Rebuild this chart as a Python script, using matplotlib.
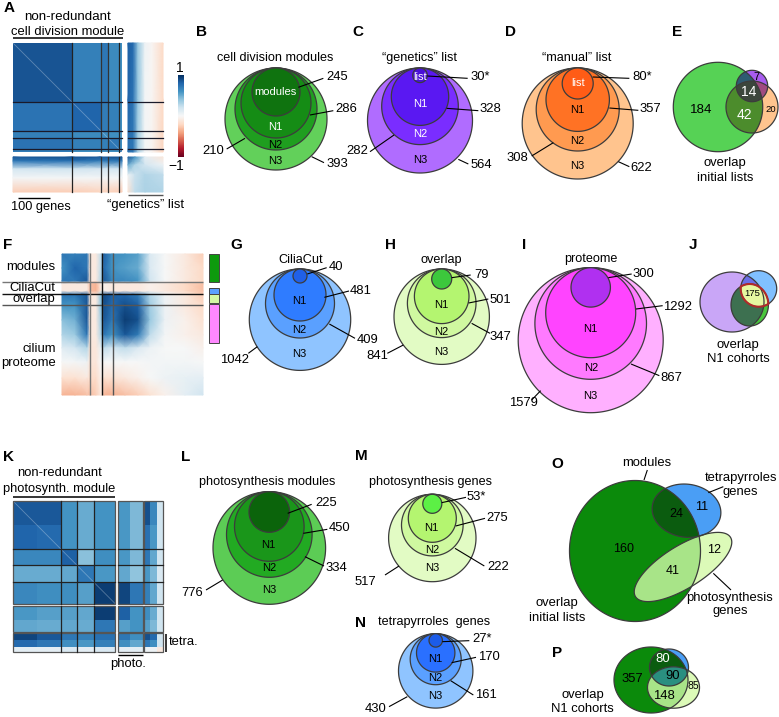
import numpy as np
import matplotlib
matplotlib.use("Agg")
import matplotlib.pyplot as plt
from matplotlib.cm import ScalarMappable
from matplotlib.colors import Normalize
from matplotlib.patches import Polygon, Rectangle

plt.rcParams['font.family'] = ['Liberation Sans', 'DejaVu Sans']

# ------------------------- data -------------------------
B_counts = ["245", "286", "210", "393"]
C_counts = ["30*", "328", "282", "564"]
D_counts = ["80*", "357", "308", "622"]
E_counts = ["184", "14", "7", "42", "20"]
G_counts = ["40", "481", "409", "1042"]
H_counts = ["79", "501", "347", "841"]
I_counts = ["300", "1292", "867", "1579"]
J_counts = ["175"]
L_counts = ["225", "450", "334", "776"]
M_counts = ["53*", "275", "222", "517"]
N_counts = ["27*", "170", "161", "430"]
O_counts = ["24", "11", "160", "12", "41"]
P_counts = ["80", "90", "357", "148", "85"]

# heat-map values, estimated block by block
A_main = [[.86, .68, .72, .64, .62],
          [.74, .8, .7, .68, .62],
          [.68, .64, .64, .62, .57],
          [.74, .68, .68, .72, .62],
          [.7, .62, .62, .62, .72]]
A_right = [[.82, .78, .38, .05, -.02, -.2],
           [.8, .74, .38, .03, -.02, -.2],
           [.74, .72, .32, .02, -.03, -.22]]
A_bottom = [[.85, .88, .85, .88],
            [.72, .75, .7, .72],
            [.18, .2, .18, .18],
            [.02, .02, .02, .02],
            [-.25, -.25, -.22, -.25]]
A_corner = [[.85, .6, .1, -.12],
            [.5, .3, .18, .05],
            [.05, .22, .3, .25],
            [-.15, .25, .32, .3]]
F_matrix = [
    [.72, .68, .72, -.1, -.1, .25, .82, .62, .6, .55, .15, 0, -.1, -.25],
    [.6, .8, .72, -.1, -.1, .25, .78, .6, .55, .5, .15, 0, -.1, -.2],
    [.72, .72, .85, -.1, -.1, .3, .85, .65, .65, .6, .2, 0, -.1, -.2],
    [-.1, -.1, -.1, -.3, -.35, -.1, -.05, -.1, -.1, -.1, -.05, -.1, -.2, -.3],
    [-.1, -.1, -.1, -.3, -.35, -.1, -.05, -.1, -.1, -.1, -.05, -.1, -.2, -.3],
    [.72, .72, .85, -.1, -.1, .4, .9, .82, .8, .7, .3, .05, -.1, -.25],
    [.6, .6, .85, -.1, -.1, .4, .88, .78, .88, .82, .35, .05, -.1, -.2],
    [.42, .48, .85, -.1, -.1, .35, .85, .72, .95, .88, .38, .05, -.05, -.15],
    [.3, .36, .72, -.1, -.1, .3, .72, .6, .85, .7, .25, .02, -.05, -.1],
    [.12, .18, .3, -.12, -.12, .08, .25, .18, .25, .15, .06, 0, 0, -.05],
    [0, .02, .05, -.12, -.12, 0, 0, 0, 0, 0, .02, .03, .03, 0],
    [-.15, -.15, -.1, -.18, -.18, -.05, -.15, -.15, -.1, -.05, 0, .05, .08, .1],
    [-.35, -.35, -.3, -.3, -.25, -.1, -.35, -.35, -.3, -.25, -.15, -.05, .1, .2]]
nan = np.nan
K_matrix = [
    [.85, .85, .6, .5, .6, nan, .58, .45, nan, .88, .65, .2],
    [.8, .78, .6, .5, .6, nan, .58, .45, nan, .75, .58, .2],
    [.65, .65, .82, .42, .62, nan, .58, .45, nan, .72, .52, .2],
    [.5, .5, .52, .72, .58, nan, .52, .4, nan, .58, .45, .15],
    [.65, .62, .62, .55, .95, nan, .92, .72, nan, .68, .52, .2],
    [nan] * 12,
    [.58, .55, .55, .52, .95, nan, .82, .6, nan, .62, .5, .2],
    [.52, .5, .52, .5, .72, nan, .55, .6, nan, .55, .45, .2],
    [nan] * 12,
    [.92, .85, .72, .68, .75, nan, .72, .62, nan, .88, .78, .2],
    [.78, .72, .62, .58, .68, nan, .62, .52, nan, .72, .62, .2],
    [.1, .1, .15, .1, .15, nan, .1, .1, nan, .05, .05, -.1]]

# ------------------------- layout -------------------------
fig = plt.figure(figsize=(7.79, 7.17), dpi=100)
ax = fig.add_axes([0, 0, 1, 1])
ax.set_xlim(0, 779)
ax.set_ylim(717, 0)
ax.axis('off')

EDGE = '#3c3c3c'
cmap = plt.get_cmap('RdBu')
norm = Normalize(-1, 1)


def T(ox, oy, zx, zy, s, size=9.4, color='black', ha='center', weight='normal'):
    ax.text(ox + zx / 3, oy + zy / 3, s, fontsize=size, color=color, ha=ha,
            va='center', fontweight=weight, zorder=20)


def L(ox, oy, x0, y0, x1, y1, color='black', lw=0.8):
    ax.plot([ox + x0 / 3, ox + x1 / 3], [oy + y0 / 3, oy + y1 / 3], color=color,
            lw=lw, zorder=15, solid_capstyle='butt')


def letter(ox, oy, zx, zy, s):
    T(ox, oy, zx, zy, s, size=11, weight='bold')


def nested(cx, top, radii, colors):
    for i, (r, c) in enumerate(zip(radii, colors)):
        t = np.linspace(0, 2 * np.pi, 200)
        ax.fill(cx + r * np.cos(t), top + r + r * np.sin(t), facecolor=c, edgecolor=EDGE,
                lw=0.9, zorder=3 + i)


def poly(cx, cy, rx, ry, deg=0):
    t = np.linspace(0, 2 * np.pi, 240, endpoint=False)
    a = np.radians(deg)
    x, y = rx * np.cos(t), ry * np.sin(t)
    return np.c_[cx + x * np.cos(a) - y * np.sin(a), cy + x * np.sin(a) + y * np.cos(a)]


def clip(subject, clipper):
    out = list(map(tuple, subject))
    n = len(clipper)
    for i in range(n):
        a, b = clipper[i], clipper[(i + 1) % n]
        side = lambda p: (b[0] - a[0]) * (p[1] - a[1]) - (b[1] - a[1]) * (p[0] - a[0])
        inp, out = out, []
        for j in range(len(inp)):
            p, q = inp[j], inp[(j + 1) % len(inp)]
            sp, sq = side(p), side(q)
            if sp >= 0:
                out.append(p)
            if sp * sq < 0:
                s = sp / (sp - sq)
                out.append((p[0] + s * (q[0] - p[0]), p[1] + s * (q[1] - p[1])))
        if not out:
            return None
    return np.array(out)


def region(shapes, color, z=5):
    p = shapes[0]
    for s in shapes[1:]:
        p = clip(p, s)
        if p is None:
            return
    ax.add_patch(Polygon(p, closed=True, facecolor=color, edgecolor='none', zorder=z))


def outline(p, lw=0.9, color=EDGE, z=8):
    ax.add_patch(Polygon(p, closed=True, fill=False, edgecolor=color, lw=lw, zorder=z))


def flat(xe, ye, Z):
    ax.pcolormesh(xe, ye, np.ma.masked_invalid(np.array(Z, float)), cmap=cmap, norm=norm,
                  shading='flat', antialiased=False, zorder=1)


def smooth(xn, yn, Z):
    ax.pcolormesh(xn, yn, np.array(Z, float), cmap=cmap, norm=norm, shading='gouraud', zorder=1)


# ------------------------- A -------------------------
letter(0, 0, 28, 25, "A")
T(0, 0, 204, 50, "non-redundant", size=9.6)
T(0, 0, 203, 96, "cell division module", size=9.35)
L(0, 0, 40, 115, 370, 115, lw=1.1)
flat([13, 72, 101.5, 108, 119, 122], [43, 102, 131, 138, 149, 152], A_main)
smooth([128, 133, 138, 145, 152, 163], [43, 100, 152], A_right)
smooth([13, 72, 100, 122], [157, 161, 169, 178, 192], A_bottom)
smooth([128, 135, 145, 163], [157, 165, 175, 192], A_corner)
ax.plot([13, 122], [43, 152], color='white', lw=0.6, alpha=.3, zorder=2)
for x, c in zip([72, 101.5, 108, 119], ['#222', '#333', '#333', '#222']):
    ax.plot([x, x], [43, 152], color=c, lw=0.9, zorder=4)
    ax.plot([x, x], [157, 192], color=c, lw=0.9, zorder=4)
for y in [102, 131, 138, 149]:
    ax.plot([13, 122], [y, y], color='#1a1a2a', lw=0.9, zorder=4)
    ax.plot([128, 163], [y, y], color='#1a1a2a', lw=0.9, zorder=4)
T(0, 0, 122, 620, "100 genes", size=9.2)
L(0, 0, 55, 594, 150, 594, lw=1.0)
T(0, 0, 438, 615, "\u201cgenetics\u201d list", size=9.4)
L(0, 0, 383, 585, 490, 585, color='#555', lw=1.0)
cax = fig.add_axes([178 / 779, 1 - 157 / 717, 5.5 / 779, 82 / 717])
cb = fig.colorbar(ScalarMappable(norm=norm, cmap=cmap), cax=cax)
cb.set_ticks([])
cb.outline.set_visible(False)
T(0, 0, 540, 203, "1", size=10)
T(0, 0, 528, 497, "\u22121", size=10)

# ------------------------- B C D E -------------------------
letter(200, 0, 5, 97, "B")
T(200, 0, 225, 175, "cell division modules", size=9.1)
nested(276, 68, [51, 41, 35, 24], ['#62d05a', '#1f9e1f', '#158c15', '#0f730f'])
for (zx, zy, s, c) in [(226, 277, "modules", 'white'), (225, 380, "N1", 'white'),
                       (225, 435, "N2", 'black'), (227, 482, "N3", 'black')]:
    T(200, 0, zx, zy, s, size=8, color=c)
for (zx, zy), s, seg in zip([(411, 231), (438, 328), (40, 453), (411, 492)], B_counts,
                            [(295, 262, 370, 235), (330, 345, 400, 332), (80, 447, 135, 415),
                             (335, 470, 372, 488)]):
    T(200, 0, zx, zy, s)
    L(200, 0, *seg)

letter(200, 0, 473, 97, "C")
T(200, 0, 660, 175, "\u201cgenetics\u201d list", size=9.1)
nested(420, 68, [52.5, 38.3, 28.7, 7.3], ['#b06cff', '#7a2dff', '#5a18f2', '#4a10d8'])
for (zx, zy, s, c) in [(660, 230, "list", 'white'), (660, 312, "N1", 'white'),
                       (660, 403, "N2", 'white'), (660, 480, "N3", 'black')]:
    T(200, 0, zx, zy, s, size=8, color=c)
for (zx, zy), s, seg in zip([(840, 231), (870, 328), (473, 453), (845, 494)], C_counts,
                            [(682, 228, 803, 235), (740, 325, 835, 332), (510, 455, 582, 405),
                             (775, 478, 805, 492)]):
    T(200, 0, zx, zy, s)
    L(200, 0, *seg)

letter(500, 0, 33, 97, "D")
T(500, 0, 230, 175, "\u201cmanual\u201d list", size=9.1)
nested(577.7, 68, [55.5, 41.5, 31.7, 15.5], ['#ffc48e', '#ff9a50', '#ff7224', '#ff5c16'])
for (zx, zy, s, c) in [(233, 248, "list", 'white'), (232, 330, "N1", 'black'),
                       (233, 423, "N2", 'black'), (233, 497, "N3", 'black')]:
    T(500, 0, zx, zy, s, size=8, color=c)
for (zx, zy), s, seg in zip([(428, 231), (452, 328), (52, 475), (425, 503)], D_counts,
                            [(278, 231, 388, 235), (328, 324, 415, 331), (95, 468, 160, 428),
                             (355, 485, 388, 500)]):
    T(500, 0, zx, zy, s)
    L(500, 0, *seg)

letter(500, 0, 530, 97, "E")
eg, eo, ep = poly(718, 107, 44.7, 44.7), poly(752, 107, 26, 26), poly(752, 86, 15.7, 15.7)
region([eg], '#56d255', 3)
region([eo], '#ffc48e', 3)
region([ep], '#a85cf0', 3)
region([eg, eo], '#4c8c2c', 4)
region([eg, ep], '#2e5c72', 4)
region([eo, ep], '#a04a80', 4)
region([eg, eo, ep], '#3c463c', 5)
for p in (eg, eo, ep):
    outline(p)
T(500, 0, 603, 331, E_counts[0], size=9.6)
T(500, 0, 745, 277, E_counts[1], size=10, color='white')
T(500, 0, 770, 230, E_counts[2], size=8)
T(500, 0, 732, 346, E_counts[3], size=10, color='white')
T(500, 0, 812, 330, E_counts[4], size=6.8)
T(500, 0, 675, 490, "overlap", size=9.4)
T(500, 0, 675, 533, "initial lists", size=9.4)

# ------------------------- F -------------------------
letter(0, 225, 22, 60, "F")
smooth([62, 75, 87, 90, 96, 101, 104, 112, 125, 138, 150, 165, 185, 203],
       [254, 268, 281, 284, 291, 295, 305, 320, 335, 348, 362, 378, 395], F_matrix)
for y, c in zip([170, 208, 240], ['#777', '#111', '#555']):
    L(0, 225, 6, y, 610, y, color=c, lw=1.0)
for x, c in zip([269, 307, 338], ['#777', '#111', '#555']):
    L(0, 225, x, 85, x, 510, color=c, lw=1.0)
for y, s in zip([125, 190, 222, 371, 415], ["modules", "CiliaCut", "overlap", "cilium", "proteome"]):
    T(0, 225, 167, y, s, ha='right', size=9.4)
for y0, y1, c in [(87, 170, '#0d9a0d'), (190, 207, '#5aa0ff'), (208, 234, '#d4f8a4'), (237, 353, '#ff88ff')]:
    ax.add_patch(Rectangle((209, 225 + y0 / 3), 10, (y1 - y0) / 3, facecolor=c, edgecolor='#444', lw=0.7))

# ------------------------- G H I J -------------------------
letter(230, 225, 20, 60, "G")
T(230, 225, 212, 104, "CiliaCut", size=9.1)
nested(300, 269, [50.7, 34.5, 26, 7], ['#8fc4ff', '#5aa0ff', '#2f7cff', '#2060e8'])
for zy, s in zip([229, 316, 387], ["N1", "N2", "N3"]):
    T(230, 225, 208, zy, s, size=8)
for (zx, zy), s, seg, ha in zip([(318, 125), (392, 197), (412, 346), (58, 405)], G_counts,
                                [(232, 147, 290, 128), (283, 217, 357, 198), (298, 297, 375, 340),
                                 (55, 385, 82, 365)], ['center', 'center', 'center', 'right']):
    T(230, 225, zx, zy, s, ha=ha)
    L(230, 225, *seg)

letter(230, 225, 482, 60, "H")
T(230, 225, 635, 104, "overlap", size=9.1)
nested(441.7, 269, [47.7, 34.3, 27.3, 10], ['#e2fbc4', '#d0f8a0', '#b4f570', '#3cc83c'])
for zy, s in zip([240, 321, 382], ["N1", "N2", "N3"]):
    T(230, 225, 634, zy, s, size=8)
for (zx, zy), s, seg in zip([(755, 149), (810, 224), (810, 337), (442, 392)], H_counts,
                            [(665, 158, 722, 150), (716, 234, 775, 222), (725, 295, 780, 325),
                             (472, 385, 520, 360)]):
    T(230, 225, zx, zy, s)
    L(230, 225, *seg)

letter(500, 225, 73, 60, "I")
T(500, 225, 272, 103, "proteome", size=9.1)
nested(590.7, 267.7, [72.5, 55.8, 45, 19.7], ['#ffb0ff', '#ff7aff', '#ff44ff', '#b030f0'])
for (zx, zy), s in zip([(270, 313), (273, 430), (272, 513)], ["N1", "N2", "N3"]):
    T(500, 225, zx, zy, s, size=8)
for (zx, zy), s, seg in zip([(430, 146), (532, 245), (515, 458), (70, 533)], I_counts,
                            [(325, 158, 395, 147), (408, 252, 488, 242), (393, 417, 478, 452),
                             (95, 525, 122, 497)]):
    T(500, 225, zx, zy, s)
    L(500, 225, *seg)

letter(500, 225, 580, 60, "J")
jp, jb, jg = poly(732, 302, 32, 30), poly(758.7, 288.7, 18, 18), poly(749.7, 305, 18.7, 21)
region([jp], '#c9a6f7', 3)
region([jb], '#80c0ff', 3)
region([jg], '#49c63c', 3)
region([jp, jb], '#6a6fe6', 4)
region([jp, jg], '#3d7050', 4)
region([jb, jg], '#e6f7a0', 5)
for p in (jp, jb, jg):
    outline(p)
lens = clip(jb, jg)
ax.add_patch(Polygon(lens, closed=True, fill=False, edgecolor='#b02a2a', lw=1.5, zorder=9))
T(500, 225, 757, 207, J_counts[0], size=6.8)
T(500, 225, 715, 360, "overlap", size=9.4)
T(500, 225, 715, 403, "N1 cohorts", size=9.4)

# ------------------------- K -------------------------
letter(0, 440, 25, 50, "K")
T(0, 440, 178, 100, "non-redundant", size=9.4)
T(0, 440, 178, 146, "photosynth. module", size=9.3)
L(0, 440, 40, 170, 345, 170, lw=1.1)
flat([13, 37, 61, 77.5, 94, 115.5, 118, 130, 143, 144.5, 150, 157, 163],
     [501, 525, 549, 565, 582, 604, 606, 620, 632, 633, 640, 647, 652], K_matrix)
ax.plot([13, 115.5], [501, 604], color='white', lw=0.6, alpha=.3, zorder=2)
for x0, x1 in [(13, 115.5), (118, 143), (144.5, 163)]:
    for y0, y1 in [(501, 604), (606, 632), (633, 652)]:
        ax.add_patch(Rectangle((x0, y0), x1 - x0, y1 - y0, fill=False, edgecolor='#555', lw=0.9, zorder=4))
for x in (61, 77.5, 94):
    for y0, y1 in [(501, 604), (606, 632), (633, 652)]:
        ax.plot([x, x], [y0, y1], color='#222', lw=0.9, zorder=4)
for y in (549, 565, 582):
    for x0, x1 in [(13, 115.5), (118, 143), (144.5, 163)]:
        ax.plot([x0, x1], [y, y], color='#222', lw=0.9, zorder=4)
L(0, 440, 498, 583, 498, 635, lw=1.1)
T(0, 440, 550, 607, "tetra.", size=9.4)
L(0, 440, 355, 646, 430, 646, lw=1.0)
T(0, 440, 385, 672, "photo.", size=9.4)

# ------------------------- L M N -------------------------
letter(0, 440, 557, 50, "L")
T(200, 440, 203, 127, "photosynthesis modules", size=9.1)
nested(269.3, 491.7, [56.3, 42.8, 34.8, 20.3], ['#5ccc55', '#22aa22', '#1a961a', '#0b640b'])
for (zx, zy), s in zip([(206, 316), (207, 385), (207, 449)], ["N1", "N2", "N3"]):
    T(200, 440, zx, zy, s, size=8)
for (zx, zy), s, seg, ha in zip([(378, 190), (418, 265), (410, 385), (10, 458)], L_counts,
                                [(263, 220, 335, 193), (310, 280, 382, 268), (315, 350, 372, 378),
                                 (18, 450, 68, 420)], ['center', 'center', 'center', 'right']):
    T(200, 440, zx, zy, s, ha=ha)
    L(200, 440, *seg)

letter(200, 440, 484, 48, "M")
T(200, 440, 692, 127, "photosynthesis genes", size=9.1)
nested(432.3, 494.3, [43.7, 30.8, 24, 9.5], ['#e2fbc4', '#cff9a0', '#b4f570', '#5cf045'])
for (zx, zy), s in zip([(695, 265), (697, 330), (697, 385)], ["N1", "N2", "N3"]):
    T(200, 440, zx, zy, s, size=8)
for (zx, zy), s, seg in zip([(828, 170), (892, 234), (895, 382), (497, 425)], M_counts,
                            [(725, 188, 798, 172), (767, 258, 855, 235), (765, 325, 853, 378),
                             (555, 405, 597, 378)]):
    T(200, 440, zx, zy, s)
    L(200, 440, *seg)

letter(200, 440, 482, 548, "N")
T(200, 440, 703, 545, "tetrapyrroles  genes", size=9.1)
nested(435.7, 633.7, [37.2, 25.5, 19.2, 6.7], ['#8fc4ff', '#5aa0ff', '#2a70ff', '#1c5ce8'])
for (zx, zy), s in zip([(705, 656), (707, 713), (707, 767)], ["N1", "N2", "N3"]):
    T(200, 440, zx, zy, s, size=8)
for (zx, zy), s, seg in zip([(845, 598), (866, 652), (857, 764), (528, 807)], N_counts,
                            [(727, 605, 808, 602), (755, 668, 828, 652), (752, 722, 820, 765),
                             (567, 800, 622, 770)]):
    T(200, 440, zx, zy, s)
    L(200, 440, *seg)

# ------------------------- O P -------------------------
letter(510, 440, 143, 72, "O")
om, ob, op = poly(635, 551, 65.5, 70.5, 0), poly(686.5, 510.7, 34.5, 26.5, 8), poly(683, 567, 56, 21, -32)
region([ob], '#4a9ef5', 3)
region([op], '#dcfab8', 3)
region([om], '#0b8a0b', 4)
region([om, ob], '#0b5c0f', 5)
region([om, op], '#a8e488', 5)
for p in (om, ob, op):
    outline(p)
T(510, 440, 410, 68, "modules")
L(510, 440, 402, 120, 412, 90)
T(510, 440, 692, 115, "tetrapyrroles")
T(510, 440, 692, 157, "genes")
L(510, 440, 595, 158, 640, 140)
for (zx, zy), s in zip([(500, 223), (576, 202), (340, 327), (612, 330), (487, 392)], O_counts):
    T(510, 440, zx, zy, s, size=9)
T(510, 440, 660, 473, "photosynthesis")
T(510, 440, 660, 513, "genes")
L(510, 440, 610, 400, 663, 450)
T(510, 440, 142, 490, "overlap")
T(510, 440, 142, 533, "initial lists")

letter(510, 440, 140, 638, "P")
pm, pb, pl = poly(651, 680, 37, 33), poly(669, 667.5, 19.5, 18.5), poly(673.5, 687.5, 26, 20.7)
region([pb], '#4a9ef5', 3)
region([pl], '#dcfab8', 3)
region([pm], '#0b8a0b', 4)
region([pm, pb], '#0b5c0f', 5)
region([pm, pl], '#a8e488', 5)
region([pb, pl], '#2a8f80', 6)
for p in (pm, pb, pl):
    outline(p)
T(510, 440, 458, 658, P_counts[0], size=9.4, color='white')
T(510, 440, 488, 708, P_counts[1], size=9.4)
T(510, 440, 366, 716, P_counts[2], size=9.4)
T(510, 440, 462, 767, P_counts[3], size=9.4)
T(510, 440, 549, 737, P_counts[4], size=7.5)
T(510, 440, 218, 764, "overlap")
T(510, 440, 218, 807, "N1 cohorts")

fig.savefig("out.png", dpi=100)
